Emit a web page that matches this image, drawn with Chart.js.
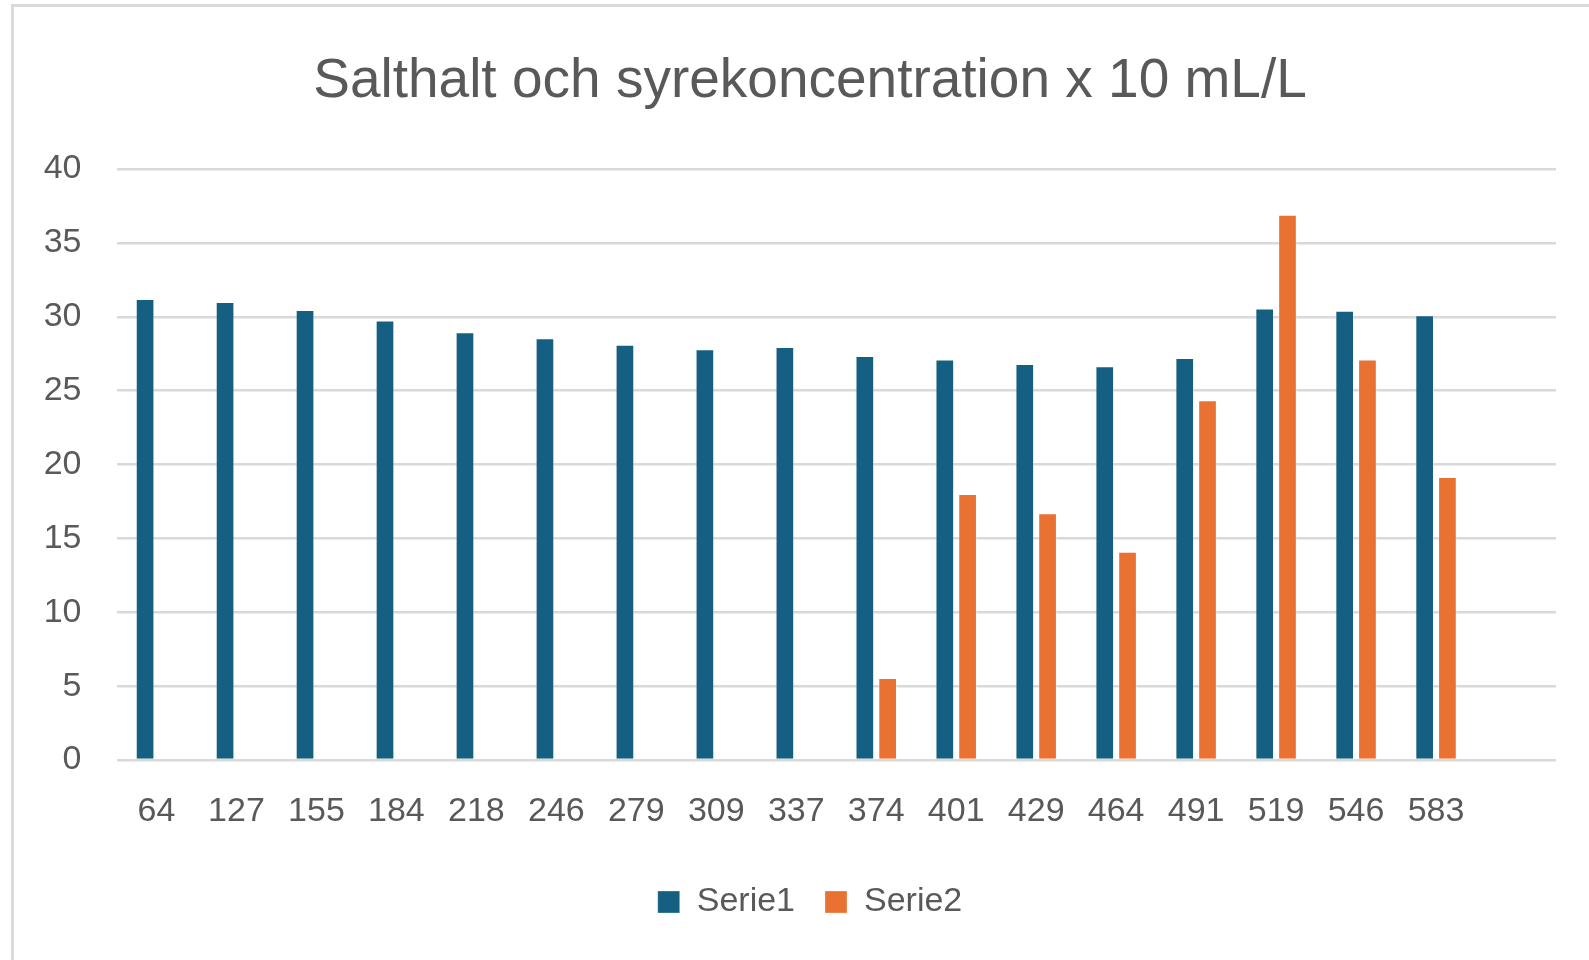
<!DOCTYPE html>
<html>
<head>
<meta charset="utf-8">
<script src="https://cdn.jsdelivr.net/npm/chart.js@4.4.1/dist/chart.umd.min.js"></script>
<style>
  html, body { margin: 0; padding: 0; background: #fff; overflow: hidden; }
  #frame {
    position: absolute; left: 11px; top: 4px; width: 2000px; height: 2000px;
    border: 3px solid #dadada; pointer-events: none;
  }
  #salthaltChart { position: absolute; left: 0; top: 0; }
</style>
</head>
<body>
<div id="frame"></div>
<canvas id="salthaltChart" width="1589" height="960"></canvas>
<script>
// Djup (x-axel) och värden avlästa från originalbilden
const depths = ['64', '127', '155', '184', '218', '246', '279', '309', '337',
  '374', '401', '429', '464', '491', '519', '546', '583', ''];
const serie1 = [31.2, 31.0, 30.45, 29.75, 28.95, 28.55, 28.1, 27.8, 27.95,
  27.35, 27.1, 26.8, 26.65, 27.2, 30.55, 30.4, 30.1, null];
const serie2 = [null, null, null, null, null, null, null, null, null,
  5.55, 18.0, 16.7, 14.1, 24.35, 36.9, 27.1, 19.15, null];
const yTicks = [0, 5, 10, 15, 20, 25, 30, 35, 40];

const textGray = '#595959';
const gridGray = '#d9d9d9';

Chart.defaults.font.family = "'Liberation Sans', Arial, sans-serif";
Chart.defaults.color = textGray;

const ctxSalthalt = document.getElementById('salthaltChart').getContext('2d');
const salthaltChart = new Chart(ctxSalthalt, {
  type: 'bar',
  data: {
    labels: depths,
    datasets: [{
      label: 'Serie1',
      data: serie1,
      backgroundColor: '#156082',
      borderColor: 'rgba(255, 255, 255, 0.3)',
      borderWidth: 1,
      categoryPercentage: 0.57,
      barPercentage: 0.82,
    }, {
      label: 'Serie2',
      data: serie2,
      backgroundColor: '#e97132',
      borderColor: 'rgba(255, 255, 255, 0.3)',
      borderWidth: 1,
      categoryPercentage: 0.57,
      barPercentage: 0.82,
    }]
  },
  options: {
    responsive: false,
    animation: false,
    devicePixelRatio: 1,
    layout: {
      padding: { left: 43, right: 12, top: 10, bottom: 31 }
    },
    scales: {
      x: {
        grid: { display: false },
        border: { display: false },
        ticks: {
          padding: 23,
          maxRotation: 0,
          autoSkip: false,
          font: { size: 34 },
          color: textGray,
        },
        afterFit: (scale) => { scale.height = 95; },
      },
      y: {
        min: 0,
        max: 40,
        afterBuildTicks: (scale) => { scale.ticks = yTicks.map(v => ({ value: v })); },
        grid: {
          color: gridGray,
          lineWidth: 2.5,
          drawTicks: false,
        },
        border: { display: false },
        ticks: {
          padding: 35,
          font: { size: 34 },
          color: textGray,
        },
        afterFit: (scale) => { scale.width = 73.5; },
      },
      // tom högerkant så att plotytan slutar där originalet gör
      yRight: {
        position: 'right',
        min: 0,
        max: 40,
        grid: { display: false },
        border: { display: false },
        ticks: { display: false },
        afterFit: (scale) => { scale.width = 21; },
      }
    },
    plugins: {
      title: {
        display: true,
        text: 'Salthalt och syrekoncentration x 10 mL/L',
        color: textGray,
        font: { size: 55, weight: 'normal' },
        padding: { top: 39, bottom: 54 },
      },
      legend: {
        display: true,
        position: 'bottom',
        labels: {
          boxWidth: 22,
          boxHeight: 22,
          padding: 30,
          color: textGray,
          font: { size: 34 },
        }
      },
      tooltip: {
        enabled: false,
      }
    }
  }
});
</script>
</body>
</html>
